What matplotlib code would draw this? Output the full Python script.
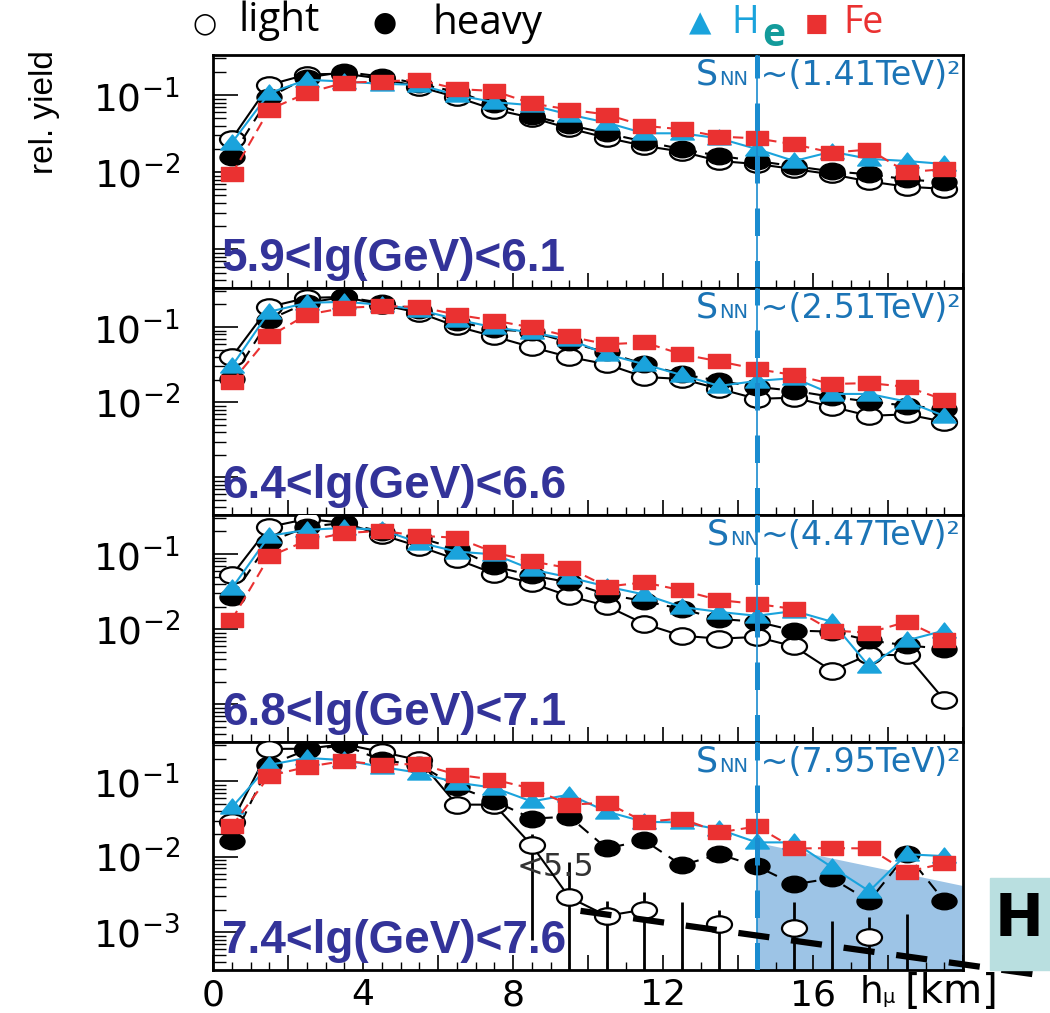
import numpy as np
import matplotlib
matplotlib.use("Agg")
import matplotlib.pyplot as plt
from matplotlib.path import Path
from matplotlib.offsetbox import TextArea, HPacker, AnchoredOffsetbox

# muon production depth bins [km]
h_mu = [0.5, 1.5, 2.5, 3.5, 4.5, 5.5, 6.5, 7.5, 8.5, 9.5,
        10.5, 11.5, 12.5, 13.5, 14.5, 15.5, 16.5, 17.5, 18.5, 19.5]

# panel 1 : 5.9 < lg E < 6.1
light_1 = [0.027, 0.136, 0.185, 0.19, 0.163, 0.128, 0.094, 0.065, 0.051, 0.037,
           0.028, 0.022, 0.0185, 0.014, 0.0128, 0.011, 0.0094, 0.0076, 0.0065, 0.0061]
heavy_1 = [0.016, 0.094, 0.169, 0.20, 0.174, 0.14, 0.11, 0.076, 0.054, 0.041,
           0.032, 0.025, 0.020, 0.0163, 0.014, 0.012, 0.0103, 0.0094, 0.0081, 0.0074]
he_1 = [0.024, 0.106, 0.158, 0.15, 0.14, 0.136, 0.10, 0.081, 0.074, 0.056,
        0.044, 0.032, 0.032, 0.0275, 0.020, 0.014, 0.0185, 0.0149, 0.014, 0.0128]
fe_1 = [0.0094, 0.065, 0.106, 0.145, 0.15, 0.158, 0.12, 0.113, 0.078, 0.065,
        0.056, 0.040, 0.036, 0.029, 0.0275, 0.023, 0.018, 0.0197, 0.010, 0.011]

# panel 2 : 6.4 < lg E < 6.6
light_2 = [0.040, 0.186, 0.244, 0.252, 0.198, 0.155, 0.102, 0.075, 0.054, 0.040,
           0.032, 0.0217, 0.0204, 0.0151, 0.0111, 0.0115, 0.0087, 0.0066, 0.0069, 0.0055]
heavy_2 = [0.0204, 0.126, 0.21, 0.252, 0.21, 0.17, 0.118, 0.093, 0.087, 0.0625,
           0.046, 0.032, 0.0237, 0.0192, 0.016, 0.0142, 0.0118, 0.0102, 0.009, 0.0082]
he_2 = [0.030, 0.16, 0.21, 0.217, 0.198, 0.17, 0.126, 0.099, 0.085, 0.0685,
        0.0435, 0.032, 0.023, 0.0165, 0.0192, 0.021, 0.0129, 0.0129, 0.0102, 0.0066]
fe_2 = [0.0186, 0.075, 0.146, 0.18, 0.19, 0.186, 0.146, 0.122, 0.099, 0.075,
        0.059, 0.0625, 0.0435, 0.035, 0.0276, 0.023, 0.0175, 0.018, 0.016, 0.0108]

# panel 3 : 6.8 < lg E < 7.1
light_3 = [0.052, 0.23, 0.293, 0.26, 0.18, 0.126, 0.085, 0.055, 0.041, 0.0276,
           0.0204, 0.0118, 0.0082, 0.0075, 0.0079, 0.0059, 0.0028, 0.0046, 0.0045, 0.00115]
heavy_3 = [0.0268, 0.146, 0.23, 0.26, 0.198, 0.165, 0.118, 0.0685, 0.052, 0.042,
           0.029, 0.0237, 0.0186, 0.0137, 0.0126, 0.0096, 0.0093, 0.0071, 0.0061, 0.0055]
he_3 = [0.035, 0.175, 0.21, 0.223, 0.21, 0.142, 0.108, 0.099, 0.0625, 0.049,
        0.037, 0.029, 0.0198, 0.017, 0.0151, 0.0175, 0.0126, 0.0032, 0.0071, 0.0096]
fe_3 = [0.0133, 0.093, 0.151, 0.19, 0.204, 0.175, 0.165, 0.105, 0.080, 0.065,
        0.037, 0.042, 0.033, 0.0244, 0.0217, 0.0186, 0.0096, 0.009, 0.0126, 0.0073]

# panel 4 : 7.4 < lg E < 7.6
light_4 = [0.0285, 0.268, 0.27, 0.31, 0.244, 0.19, 0.049, 0.049, 0.0142, 0.0029,
           0.00165, 0.002, np.nan, 0.0013, np.nan, 0.00115, np.nan, 0.00087, np.nan, np.nan]
heavy_4 = [0.016, 0.165, 0.26, 0.30, 0.19, 0.165, 0.085, 0.055, 0.032, 0.034,
           0.0129, 0.0165, 0.0077, 0.0108, 0.0075, 0.0043, 0.0052, 0.0026, 0.0108, 0.0026]
he_4 = [0.045, 0.165, 0.204, 0.19, 0.155, 0.129, 0.096, 0.082, 0.054, 0.0665,
        0.0397, 0.029, 0.0285, 0.023, 0.0155, 0.0155, 0.0073, 0.0035, 0.0108, 0.0102]
fe_4 = [0.0252, 0.118, 0.155, 0.186, 0.165, 0.17, 0.122, 0.105, 0.080, 0.049,
        0.052, 0.029, 0.032, 0.021, 0.0252, 0.0129, 0.013, 0.0129, 0.0063, 0.0082]

# error bars of the light sample in the last panel
err_x = [8.5, 9.5, 10.5, 11.5, 12.5, 13.5, 15.5, 16.5, 17.5, 18.5]
err_hi = [0.0198, 0.0085, 0.0026, 0.0034, 0.0025, 0.002, 0.0025, 0.0014, 0.0016, 0.00175]
err_lo = [0.00078, 1e-4, 1e-4, 1e-4, 1e-4, 1e-4, 1e-4, 1e-4, 1e-4, 1e-4]

# shaded band and overlaid dashed line in the last panel
shade_x = [14.5, 20.05]
shade_top = [0.0155, 0.0041]
over_x = [9.8, 22.3]
over_y = [0.00192, 0.00026]

h_cut = 14.5
energy_labels = ["5.9<lg(GeV)<6.1", "6.4<lg(GeV)<6.6",
                 "6.8<lg(GeV)<7.1", "7.4<lg(GeV)<7.6"]
snn_labels = [" ~(1.41TeV)²", " ~(2.51TeV)²", "~(4.47TeV)²", " ~(7.95TeV)²"]

light = [light_1, light_2, light_3, light_4]
heavy = [heavy_1, heavy_2, heavy_3, heavy_4]
helium = [he_1, he_2, he_3, he_4]
iron = [fe_1, fe_2, fe_3, fe_4]

CYAN = "#1aa3dc"
RED = "#ea3131"
NAVY = "#333399"
SBLUE = "#1b74b6"
YMIN, YMAX = 10 ** -3.5, 10 ** -0.48

# squashed marker shapes
circ = Path.unit_circle()
ellipse = Path(circ.vertices * [1.0, 0.66], circ.codes)
tri = Path([(-1, -0.55), (1, -0.55), (0, 0.72), (-1, -0.55)], closed=True)
rect = Path([(-1, -0.62), (1, -0.62), (1, 0.62), (-1, 0.62), (-1, -0.62)], closed=True)

W, H = 1050, 1013
fig = plt.figure(figsize=(W / 100, H / 100), dpi=100)
plt.rcParams['font.family'] = ['DejaVu Sans']

panel_px = [(55, 288), (288, 515), (515, 742), (742, 970)]
left_px, right_px = 213, 963

axes = []
for i, (top, bot) in enumerate(panel_px):
    ax = fig.add_axes([left_px / W, 1 - bot / H, (right_px - left_px) / W, (bot - top) / H])
    axes.append(ax)
    ax.set_yscale('log')
    ax.set_xlim(0, 20)
    ax.set_ylim(YMIN, YMAX)

    ax.plot(h_mu, light[i], color='black', lw=1.5, marker=ellipse, ms=18,
            mfc='white', mec='black', mew=1.6, zorder=3)
    ax.plot(h_mu, heavy[i], color='black', lw=1.5, ls=(0, (6, 4)), marker=ellipse, ms=18,
            mfc='black', mec='black', zorder=4)
    ax.plot(h_mu, helium[i], color=CYAN, lw=1.5, marker=tri, ms=17,
            mfc=CYAN, mec=CYAN, zorder=5)
    ax.plot(h_mu, iron[i], color=RED, lw=1.5, ls=(0, (5, 3)), marker=rect, ms=16,
            mfc=RED, mec=RED, zorder=6)

    ax.axvline(h_cut, color="#1a8cd0", lw=3.6, ls=(0, (5.5, 5)), zorder=7)
    ax.axvline(h_cut, color="#1a8cd0", lw=1.2, zorder=7)

    ax.text(0.012, 0.075, energy_labels[i], transform=ax.transAxes,
            fontsize=33, fontweight='bold', color=NAVY, family='Liberation Sans',
            ha='left', va='baseline', zorder=8)

    snn = HPacker(children=[
        TextArea("S", textprops=dict(fontsize=25, color=SBLUE)),
        TextArea("NN", textprops=dict(fontsize=14, color=SBLUE)),
        TextArea(snn_labels[i], textprops=dict(fontsize=24, color=SBLUE)),
    ], align="baseline", pad=0, sep=1)
    ax.add_artist(AnchoredOffsetbox(loc='upper right', child=snn, pad=0, borderpad=0.2,
                                    frameon=False))

    for sp in ax.spines.values():
        sp.set_linewidth(2)
    ax.set_xticks(np.arange(0, 20.1, 2))
    ax.set_xticks(np.arange(0, 20.1, 0.5), minor=True)
    ax.tick_params(axis='x', which='major', direction='in', length=11, width=1.2,
                   labelbottom=(i == 3), labelsize=26, pad=6)
    ax.tick_params(axis='x', which='minor', direction='in', length=6, width=1.0)
    ax.set_yticks([1e-3, 1e-2, 1e-1])
    if i == 3:
        ax.set_yticklabels([r'$\mathregular{10^{-3}}$', r'$\mathregular{10^{-2}}$',
                            r'$\mathregular{10^{-1}}$'])
    else:
        ax.set_yticklabels(['', r'$\mathregular{10^{-2}}$', r'$\mathregular{10^{-1}}$'])
    ax.tick_params(axis='y', which='major', direction='in', length=18, width=1.2,
                   labelsize=27, pad=24)
    ax.tick_params(axis='y', which='minor', direction='in', length=9, width=1.0,
                   labelleft=False)

ax4 = axes[3]
ax4.set_xticklabels(['0', '', '4', '', '8', '', '12', '', '16', '', ''])
ax4.fill_between(shade_x, shade_top, YMIN, color="#9dc4e6", lw=0, zorder=1)
ax4.vlines(err_x, err_lo, err_hi, color='black', lw=2, zorder=2)
ax4.plot(over_x, over_y, color='black', lw=4.5, ls=(0, (5, 3.5)), zorder=9, clip_on=False)
ax4.text(8.1, 0.0055, "<5.5", fontsize=23, color='#333333', ha='left', va='baseline', zorder=2)


def fxy(x, y):
    return x / W, 1 - y / H


# x axis label
fig.text(*fxy(860, 1003), "h", fontsize=27, ha='left', va='baseline')
fig.text(*fxy(882, 1003), "μ", fontsize=14, ha='left', va='baseline')
fig.text(*fxy(904, 1003), "[km]", fontsize=29, ha='left', va='baseline')

# y axis label
fig.text(*fxy(45, 112), "rel. yield", fontsize=24, rotation=90, ha='center', va='center',
         family='Liberation Sans')

# legend on top
fig.text(*fxy(205, 31), "○", fontsize=20, ha='center', va='baseline')
fig.text(*fxy(238, 31), "light", fontsize=29, ha='left', va='baseline', family='Open Sans')
fig.text(*fxy(385, 31), "●", fontsize=20, ha='center', va='baseline')
fig.text(*fxy(432, 34), "heavy", fontsize=29, ha='left', va='baseline', family='Open Sans')
fig.text(*fxy(700, 31), "▲", fontsize=21, ha='center', va='baseline', color=CYAN)
fig.text(*fxy(731, 33), "H", fontsize=27, ha='left', va='baseline', color=CYAN, family='Open Sans')
fig.text(*fxy(762, 46), "e", fontsize=28, ha='left', va='baseline', color="#139b9b",
         fontweight='bold', family='Open Sans')
fig.text(*fxy(817, 31), "■", fontsize=18, ha='center', va='baseline', color=RED)
fig.text(*fxy(843, 33), "Fe", fontsize=27, ha='left', va='baseline', color=RED, family='Open Sans')

# cut-off box on the right edge
fig.patches.append(plt.Rectangle(fxy(990, 970), 60 / W, 92 / H, transform=fig.transFigure,
                                 color="#b9dfe0", zorder=0))
fig.text(*fxy(995, 936), "H", fontsize=42, fontweight='bold', ha='left', va='baseline')

fig.savefig("out.png", dpi=100)
